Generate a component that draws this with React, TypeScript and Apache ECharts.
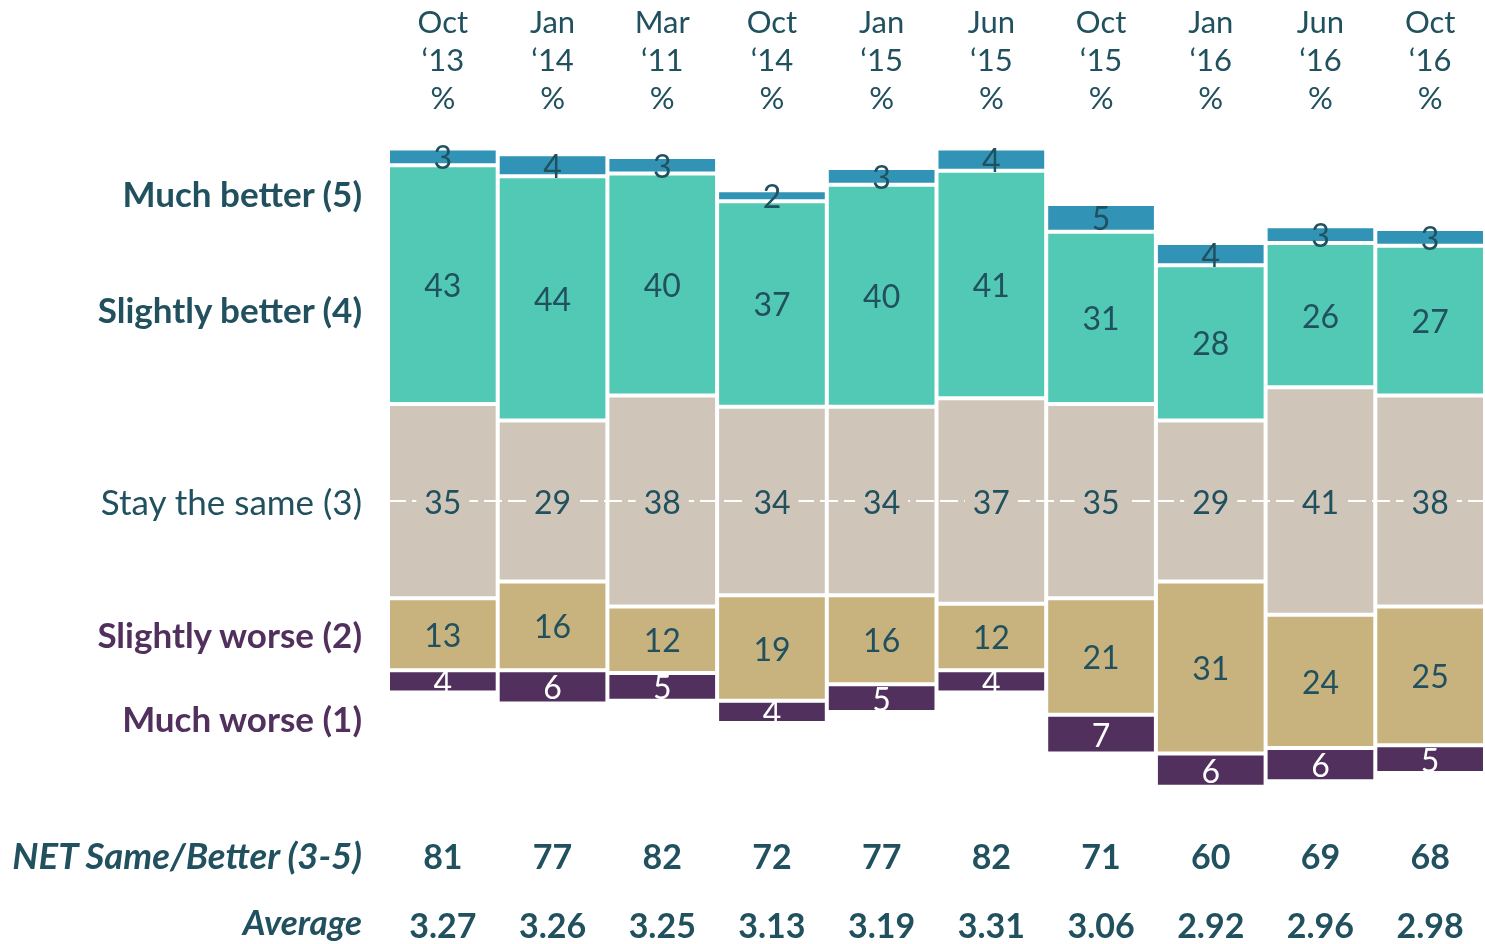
import React, { useEffect, useRef } from "react";
import * as echarts from "echarts";

const categories = ["Oct ‘13", "Jan ‘14", "Mar ‘11", "Oct ‘14", "Jan ‘15", "Jun ‘15", "Oct ‘15", "Jan ‘16", "Jun ‘16", "Oct ‘16"];
const muchBetter = [3, 4, 3, 2, 3, 4, 5, 4, 3, 3];
const slightlyBetter = [43, 44, 40, 37, 40, 41, 31, 28, 26, 27];
const staySame = [35, 29, 38, 34, 34, 37, 35, 29, 41, 38];
const slightlyWorse = [13, 16, 12, 19, 16, 12, 21, 31, 24, 25];
const muchWorse = [4, 6, 5, 4, 5, 4, 7, 6, 6, 5];
const netSameBetter = ["81", "77", "82", "72", "77", "82", "71", "60", "69", "68"];
const averages = ["3.27", "3.26", "3.25", "3.13", "3.19", "3.31", "3.06", "2.92", "2.96", "2.98"];
const rowLabels = ["Much better (5)", "Slightly better (4)", "Stay the same (3)", "Slightly worse (2)", "Much worse (1)"];

const TEAL_TEXT = "#21505f";
const PURPLE_TEXT = "#52305e";
const FONT = "Lato, 'Open Sans', sans-serif";

export default function App() {
  const ref = useRef<HTMLDivElement>(null);
  useEffect(() => {
    if (!ref.current) return;
    const chart = echarts.init(ref.current, null, { renderer: "svg" });
    const offset = staySame.map((s, i) => -(s / 2 + slightlyWorse[i] + muchWorse[i]));
    const barBase = {
      type: "bar",
      stack: "total",
      stackStrategy: "all",
      barCategoryGap: "0%",
      itemStyle: { borderColor: "#ffffff", borderWidth: 2 },
    };
    const lbl = (color: string) => ({
      show: true,
      position: "inside",
      color,
      fontSize: 32,
      fontFamily: FONT,
    });
    const option = {
      animation: false,
      textStyle: { fontFamily: FONT },
      grid: { left: 388, right: 0, top: 140.25, height: 693.75 },
      xAxis: [
        {
          type: "category",
          position: "top",
          data: categories.map((c) => c.replace(" ", "\n") + "\n%"),
          axisLine: { show: false },
          axisTick: { show: false },
          axisLabel: { color: TEAL_TEXT, fontSize: 31, lineHeight: 38, fontFamily: FONT, margin: 24 },
        },
        {
          type: "category",
          position: "bottom",
          data: netSameBetter,
          axisLine: { show: false },
          axisTick: { show: false },
          axisLabel: { color: TEAL_TEXT, fontSize: 34, fontWeight: "bold", fontFamily: FONT, margin: 4 },
        },
        {
          type: "category",
          position: "bottom",
          offset: 69,
          data: averages,
          axisLine: { show: false },
          axisTick: { show: false },
          axisLabel: { color: TEAL_TEXT, fontSize: 34, fontWeight: "bold", fontFamily: FONT, margin: 4 },
        },
      ],
      yAxis: { type: "value", min: -60, max: 65, show: false },
      graphic: [
        { y: 193, text: rowLabels[0], weight: "bold", color: TEAL_TEXT, italic: false, size: 35 },
        { y: 309, text: rowLabels[1], weight: "bold", color: TEAL_TEXT, italic: false, size: 35 },
        { y: 501, text: rowLabels[2], weight: "normal", color: TEAL_TEXT, italic: false, size: 35 },
        { y: 634, text: rowLabels[3], weight: "bold", color: PURPLE_TEXT, italic: false, size: 35 },
        { y: 718, text: rowLabels[4], weight: "bold", color: PURPLE_TEXT, italic: false, size: 35 },
        { y: 855, text: "NET Same/Better (3-5)", weight: "bold", color: TEAL_TEXT, italic: true, size: 36.5 },
        { y: 921, text: "Average", weight: "bold", color: TEAL_TEXT, italic: true, size: 35 },
      ].map((t) => ({
        type: "text",
        x: 362,
        y: t.y,
        style: {
          text: t.text,
          align: "right",
          verticalAlign: "middle",
          fill: t.color,
          fontSize: t.size,
          fontWeight: t.weight,
          fontStyle: t.italic ? "italic" : "normal",
          fontFamily: FONT,
        },
      })),
      series: [
        {
          ...barBase,
          name: "offset",
          data: offset,
          itemStyle: { color: "transparent", borderWidth: 0 },
          silent: true,
        },
        { ...barBase, name: rowLabels[4], data: muchWorse, itemStyle: { ...barBase.itemStyle, color: "#52305e" }, label: lbl("#ffffff") },
        { ...barBase, name: rowLabels[3], data: slightlyWorse, itemStyle: { ...barBase.itemStyle, color: "#c8b27e" }, label: lbl(TEAL_TEXT) },
        {
          ...barBase,
          name: rowLabels[2],
          data: staySame,
          itemStyle: { ...barBase.itemStyle, color: "#cfc6b9" },
          markLine: {
            silent: true,
            symbol: "none",
            label: { show: false },
            lineStyle: { color: "#ffffff", type: [18, 6], width: 2 },
            data: [{ yAxis: 0 }],
          },
        },
        { ...barBase, name: rowLabels[1], data: slightlyBetter, itemStyle: { ...barBase.itemStyle, color: "#52c9b4" }, label: lbl(TEAL_TEXT) },
        { ...barBase, name: rowLabels[0], data: muchBetter, itemStyle: { ...barBase.itemStyle, color: "#3193b5" }, label: lbl(TEAL_TEXT) },
        {
          type: "scatter",
          name: "same labels",
          z: 10,
          symbolSize: 1,
          itemStyle: { color: "transparent", opacity: 1 },
          data: staySame.map((s, i) => [i, 0, s]),
          label: {
            show: true,
            position: "inside",
            formatter: (p: any) => String(p.value[2]),
            color: TEAL_TEXT,
            opacity: 1,
            fontSize: 32,
            fontFamily: FONT,
            backgroundColor: "#cfc6b9",
            padding: [0, 8],
          },
        },
      ],
    };
    chart.setOption(option as any);
    return () => chart.dispose();
  }, []);
  return <div ref={ref} style={{ position: "fixed", left: 0, top: 0, width: 1485, height: 944 }} />;
}
